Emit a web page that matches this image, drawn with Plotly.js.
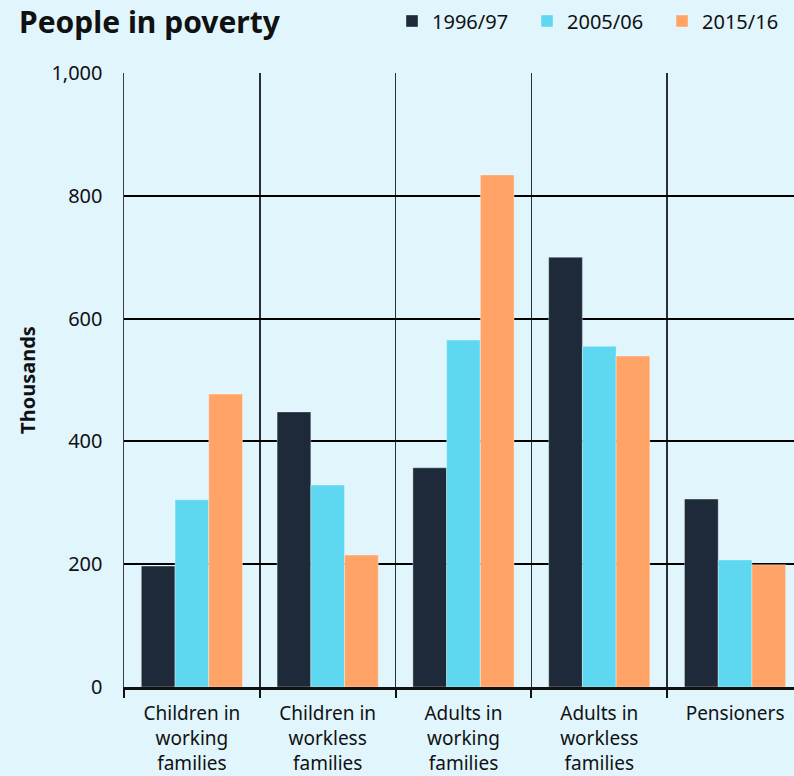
<!DOCTYPE html>
<html>
<head>
<meta charset="utf-8">
<script src="https://cdn.plot.ly/plotly-3.0.1.min.js"></script>
<style>
  html, body { margin: 0; padding: 0; background: #E0F5FC; overflow: hidden; }
  #chart { width: 794px; height: 776px; }
</style>
</head>
<body>
<div id="chart"></div>
<script>
const categories = [
  "Children in<br>working<br>families",
  "Children in<br>workless<br>families",
  "Adults in<br>working<br>families",
  "Adults in<br>workless<br>families",
  "Pensioners"
];
const seriesNames = ["1996/97", "2005/06", "2015/16"];
const values1996 = [197, 448, 357, 700, 306];
const values2005 = [305, 329, 565, 555, 207];
const values2015 = [477, 215, 834, 539, 199];
const colors = ["#1E2A3A", "#5DD8F0", "#FFA466"];
const allValues = [values1996, values2005, values2015];

const traces = allValues.map((vals, i) => ({
  type: "bar",
  name: seriesNames[i],
  x: categories,
  y: vals,
  marker: { color: colors[i], line: { color: "rgba(255,255,255,0.35)", width: 1 } },
  hoverinfo: "x+y+name"
}));

const font = "'Noto Sans', 'Open Sans', sans-serif";

const layout = {
  width: 794,
  height: 776,
  paper_bgcolor: "#E0F5FC",
  plot_bgcolor: "#E0F5FC",
  margin: { l: 124, r: 0, t: 73, b: 89, pad: 0 },
  barmode: "group",
  bargap: 0.255,
  bargroupgap: 0,
  font: { family: font, color: "#111", size: 18 },
  title: {
    text: "<b>People in poverty</b>",
    font: { family: font, size: 30, color: "#111" },
    x: 19 / 794, xanchor: "left", xref: "container",
    y: 1 - 22 / 776, yanchor: "middle", yref: "container"
  },
  showlegend: true,
  legend: {
    orientation: "h",
    xref: "container", yref: "container",
    x: 392 / 794, xanchor: "left",
    y: 1 - 21 / 776, yanchor: "middle",
    font: { family: font, size: 20, color: "#111" },
    bgcolor: "rgba(0,0,0,0)",
    itemwidth: 20,
    entrywidth: 90,
    entrywidthmode: "pixels",
    traceorder: "normal"
  },
  xaxis: {
    type: "category",
    range: [-0.5, 4.434],
    tickson: "boundaries",
    showgrid: true,
    gridcolor: "#2a2f33",
    gridwidth: 1.5,
    ticks: "outside",
    ticklen: 8,
    tickwidth: 2,
    tickcolor: "#111",
    showline: true,
    linecolor: "#111",
    linewidth: 2.5,
    ticklabelstandoff: 8,
    tickfont: { family: font, size: 19, color: "#111" },
    fixedrange: true
  },
  yaxis: {
    range: [0, 1000],
    tickvals: [0, 200, 400, 600, 800, 1000],
    ticktext: ["0", "200", "400", "600", "800", "1,000"],
    showgrid: true,
    gridcolor: "#000",
    gridwidth: 2,
    zeroline: false,
    showline: true,
    linecolor: "#3a4046",
    linewidth: 1.5,
    ticks: "",
    ticklabelstandoff: 16,
    tickfont: { family: font, size: 20, color: "#111" },
    title: {
      text: "<b>Thousands</b>",
      font: { family: font, size: 20, color: "#111" },
      standoff: 10
    },
    fixedrange: true
  }
};

Plotly.newPlot("chart", traces, layout, { displayModeBar: false, staticPlot: true });
</script>
</body>
</html>
